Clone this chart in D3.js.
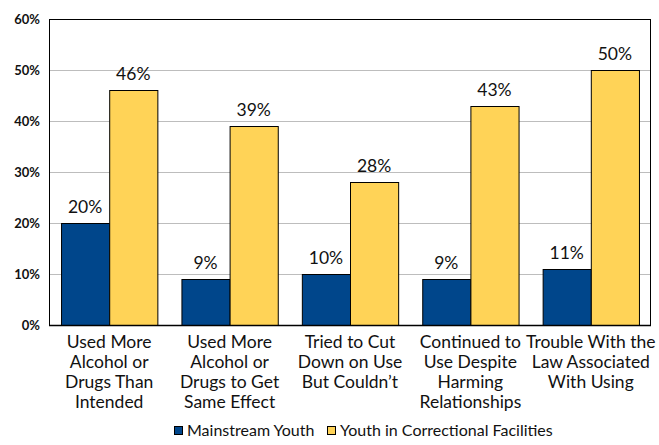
<!DOCTYPE html>
<html><head><meta charset="utf-8">
<script src="https://cdn.jsdelivr.net/npm/d3@7"></script>
<style>
body{margin:0;background:#fff;}
svg{display:block;font-family:Lato,"Open Sans",sans-serif;}
</style></head>
<body><svg id="c" width="659" height="445"></svg>
<script>
const categories = [
  ["Used More","Alcohol or","Drugs Than","Intended"],
  ["Used More","Alcohol or","Drugs to Get","Same Effect"],
  ["Tried to Cut","Down on Use","But Couldn’t"],
  ["Continued to","Use Despite","Harming","Relationships"],
  ["Trouble With the","Law Associated","With Using"]
];
const seriesNames = ["Mainstream Youth","Youth in Correctional Facilities"];
const mainstream = [20,9,10,9,11];
const correctional = [46,39,28,43,50];
const yTicks = [0,10,20,30,40,50,60];
const colors = ["#00468b","#ffd357"];

const svg = d3.select("#c");
const m = {l:49,r:8,t:19,b:120};
const W = 659, H = 445;
const x = d3.scaleBand().domain(d3.range(categories.length)).range([m.l, W-m.r]).paddingInner(0.2).paddingOuter(0.1);
const x1 = d3.scaleBand().domain([0,1]).range([0, x.bandwidth()]);
const y = d3.scaleLinear().domain([0,60]).range([H-m.b, m.t]);

// gridlines
svg.append("g").selectAll("line").data(yTicks.slice(1,-1)).join("line")
  .attr("x1", m.l).attr("x2", W-m.r)
  .attr("y1", d=>Math.round(y(d))+0.5).attr("y2", d=>Math.round(y(d))+0.5)
  .attr("stroke","#bdbdbd").attr("stroke-width",1);

const data = categories.map((c,i)=>({i, vals:[mainstream[i], correctional[i]]}));
const g = svg.append("g").selectAll("g").data(data).join("g")
  .attr("transform", d=>`translate(${x(d.i)},0)`);
g.selectAll("rect").data(d=>d.vals.map((v,k)=>({v,k}))).join("rect")
  .attr("x", d=>x1(d.k)+0.5).attr("width", x1.bandwidth())
  .attr("y", d=>Math.round(y(d.v))+0.5).attr("height", d=>Math.round(y(0))-Math.round(y(d.v)))
  .attr("fill", d=>colors[d.k]).attr("stroke","#000").attr("stroke-width",1);
g.selectAll("text.v").data(d=>d.vals.map((v,k)=>({v,k}))).join("text")
  .attr("class","v")
  .attr("x", d=>x1(d.k)+x1.bandwidth()/2).attr("y", d=>y(d.v)-10)
  .attr("text-anchor","middle").attr("font-size",17.5).attr("fill","#111")
  .text(d=>d.v+"%");

// frame
svg.append("rect").attr("x",m.l+0.5).attr("y",m.t+0.5)
  .attr("width",W-m.r-m.l-1).attr("height",y(0)-m.t)
  .attr("fill","none").attr("stroke","#000").attr("stroke-width",1);
svg.append("line").attr("x1",m.l).attr("x2",W-m.r).attr("y1",Math.round(y(0))+0.5).attr("y2",Math.round(y(0))+0.5).attr("stroke","#000").attr("stroke-width",1.5);

// y axis
const ya = d3.axisLeft(y).tickValues(yTicks).tickFormat(d=>d+"%").tickSize(0).tickPadding(9);
const yg = svg.append("g").attr("transform",`translate(${m.l},0)`).call(ya);
yg.select(".domain").remove();
yg.selectAll("text").attr("font-size",13).attr("font-weight","bold").attr("fill","#111").attr("font-family","Lato,sans-serif");

// x labels
const xl = svg.append("g").selectAll("text").data(data).join("text")
  .attr("x", d=>x(d.i)+x.bandwidth()/2).attr("y", y(0)+23)
  .attr("text-anchor","middle").attr("font-size",17.5).attr("fill","#111");
xl.selectAll("tspan").data(d=>categories[d.i]).join("tspan")
  .attr("x", function(){return this.parentNode.getAttribute("x");})
  .attr("dy",(d,k)=>k===0?0:20).text(d=>d);

// legend
const leg = svg.append("g").attr("transform","translate(0,436)");
const lx = [174,327];
seriesNames.forEach((n,k)=>{
  leg.append("rect").attr("x",lx[k]+0.5).attr("y",-9.5).attr("width",8).attr("height",8)
    .attr("fill",colors[k]).attr("stroke","#000").attr("stroke-width",1);
  leg.append("text").attr("x",lx[k]+13).attr("y",0).attr("font-size",16).attr("fill","#111").text(n);
});
</script></body></html>
